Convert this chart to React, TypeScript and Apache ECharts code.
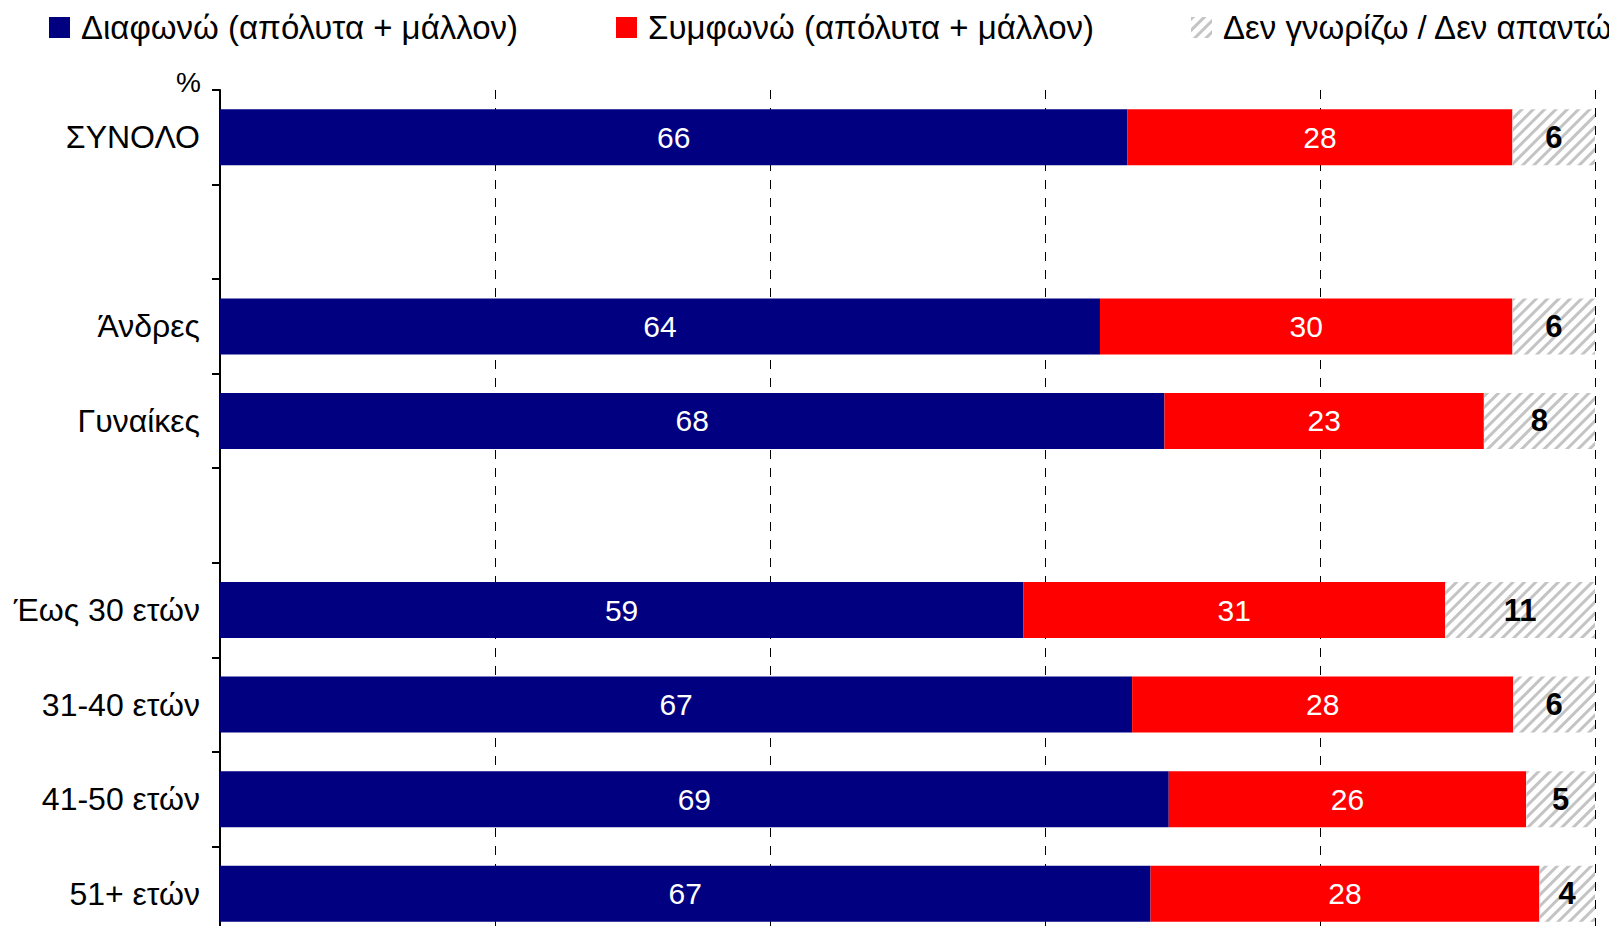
import React, { useEffect, useRef } from "react";
import * as echarts from "echarts";

const categories = ["ΣΥΝΟΛΟ", "", "Άνδρες", "Γυναίκες", "", "Έως 30 ετών", "31-40 ετών", "41-50 ετών", "51+ ετών"];
const disagree: (number | null)[] = [66, null, 64, 68, null, 59, 67, 69, 67];
const agree: (number | null)[] = [28, null, 30, 23, null, 31, 28, 26, 28];
const dontKnow: (number | null)[] = [6, null, 6, 8, null, 11, 6, 5, 4];
const seriesNames = ["Διαφωνώ (απόλυτα + μάλλον)", "Συμφωνώ (απόλυτα + μάλλον)", "Δεν γνωρίζω / Δεν απαντώ"];

const FONT = "'Liberation Sans', Arial, sans-serif";

export default function App() {
  const ref = useRef<HTMLDivElement>(null);
  useEffect(() => {
    if (!ref.current) return;
    const chart = echarts.init(ref.current, null, { renderer: "svg" });
    const raws = [disagree, agree, dontKnow];
    const totals = categories.map((_, i) =>
      raws.reduce((s, arr) => s + (arr[i] ?? 0), 0)
    );
    const toPct = (arr: (number | null)[]) =>
      arr.map((v, i) => (v == null ? null : (v / totals[i]) * 100));

    const colors = ["#000080", "#ff0000", "#ffffff"];
    const series = raws.map((arr, k) => ({
      name: seriesNames[k],
      type: "bar",
      stack: "total",
      barWidth: 56,
      data: toPct(arr),
      itemStyle: k === 2
        ? {
            color: "#ffffff",
            decal: {
              symbol: "rect",
              symbolSize: 1,
              color: "#c4c4c4",
              dashArrayX: [1, 0],
              dashArrayY: [3, 5],
              rotation: -Math.PI / 4,
            },
          }
        : { color: colors[k] },
      label: {
        show: true,
        position: "inside",
        fontFamily: FONT,
        fontSize: k === 2 ? 31 : 30,
        fontWeight: k === 2 ? "bold" : "normal",
        color: k === 2 ? "#000000" : "#ffffff",
        formatter: (p: any) => String(arr[p.dataIndex] ?? ""),
      },
      emphasis: { disabled: true },
    }));

    const legendLefts = [49, 616, 1191];
    const legends = seriesNames.map((name, k) => ({
      show: true,
      left: legendLefts[k],
      top: 11,
      itemWidth: 21,
      itemHeight: 21,
      itemGap: 10,
      icon: "rect",
      data: [name],
      textStyle: { fontFamily: FONT, fontSize: 33, color: "#000000", padding: [0, 0, 0, 6] },
      selectedMode: false,
      padding: 0,
    }));

    chart.setOption({
      animation: false,
      backgroundColor: "#ffffff",
      legend: legends,
      grid: { left: 220, right: 22, top: 90, height: 851, containLabel: false },
      xAxis: {
        type: "value",
        min: 0,
        max: 100,
        interval: 20,
        axisLabel: { show: false },
        axisLine: { show: false },
        axisTick: { show: false },
        splitLine: {
          show: true,
          lineStyle: { color: "#000000", type: [9, 9], width: 1 },
        },
      },
      yAxis: {
        type: "category",
        inverse: true,
        data: categories,
        axisLine: { show: true, lineStyle: { color: "#000000", width: 2 } },
        axisTick: { show: true, length: 8, alignWithLabel: false, lineStyle: { color: "#000000", width: 2 } },
        axisLabel: { fontFamily: FONT, fontSize: 32, color: "#000000", margin: 20 },
        splitLine: { show: false },
      },
      graphic: [
        {
          type: "text",
          left: 176,
          top: 68,
          style: { text: "%", fontFamily: FONT, fontSize: 28, fill: "#000000" },
        },
      ],
      series,
    });
    return () => chart.dispose();
  }, []);
  return (
    <div style={{ width: 1617, height: 934, margin: -8, overflow: "hidden" }}>
      <div ref={ref} style={{ width: 1617, height: 960 }} />
    </div>
  );
}
